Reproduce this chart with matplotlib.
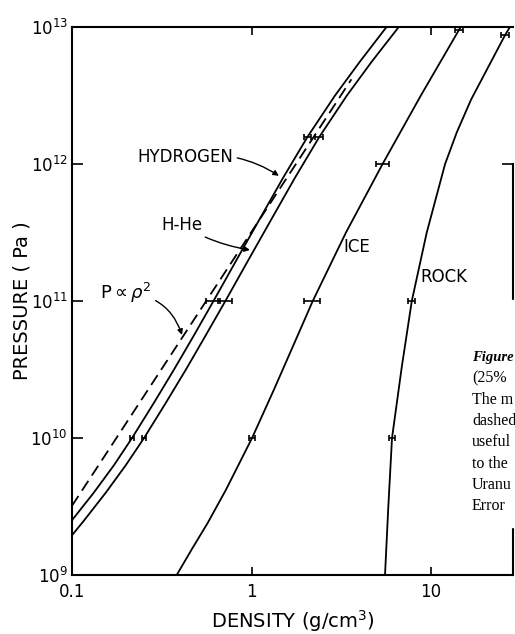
import numpy as np
import matplotlib.pyplot as plt
from matplotlib.patches import Rectangle
from matplotlib.ticker import NullLocator

plt.rcParams['font.family'] = ['DejaVu Sans']
plt.rcParams['mathtext.fontset'] = 'dejavusans'

# curves: density (g/cm3) vs pressure (Pa)
rho_h = [0.100, 0.132, 0.171, 0.216, 0.284, 0.370, 0.478, 0.614, 0.826,
         1.112, 1.500, 2.051, 2.917, 4.027, 5.649]
p_h = [2.51e9, 3.98e9, 6.31e9, 1.0e10, 1.78e10, 3.16e10, 5.62e10, 1.0e11,
       2.0e11, 3.98e11, 7.94e11, 1.58e12, 3.16e12, 5.62e12, 1.0e13]

rho_hhe = [0.100, 0.117, 0.154, 0.199, 0.252, 0.331, 0.431, 0.556, 0.715,
           0.962, 1.294, 1.746, 2.388, 3.396, 4.688, 6.607]
p_hhe = [1.95e9, 2.51e9, 3.98e9, 6.31e9, 1.0e10, 1.78e10, 3.16e10, 5.62e10,
         1.0e11, 2.0e11, 3.98e11, 7.94e11, 1.58e12, 3.16e12, 5.62e12, 1.0e13]

rho_dash = [0.1, 3.6]
p_dash = [3.2e9, 4.15e12]

rho_ice = [0.383, 0.470, 0.568, 0.719, 1.007, 1.330, 1.762, 2.193, 3.357,
           5.370, 8.77, 14.62]
p_ice = [1.0e9, 1.58e9, 2.38e9, 4.17e9, 1.0e10, 2.24e10, 5.19e10, 1.0e11,
         3.16e11, 1.0e12, 3.16e12, 1.0e13]

rho_rock = [5.54, 5.78, 6.06, 6.87, 7.81, 9.46, 11.97, 13.9, 16.7, 20.65,
            25.8, 27.5]
p_rock = [1.0e9, 3.16e9, 1.0e10, 3.31e10, 1.0e11, 3.16e11, 1.0e12, 1.7e12,
          2.95e12, 5.0e12, 8.7e12, 1.0e13]

# error bar points and relative half widths
eb_rho = [0.216, 0.614, 2.05, 0.252, 0.715, 2.39, 1.007, 2.19, 5.37, 14.4,
          6.06, 7.81, 25.8]
eb_p = [1e10, 1e11, 1.58e12, 1e10, 1e11, 1.58e12, 1e10, 1e11, 1e12, 9.5e12,
        1e10, 1e11, 8.7e12]
eb_rel = [0.03, 0.09, 0.05, 0.03, 0.09, 0.05, 0.04, 0.10, 0.08, 0.05,
          0.04, 0.045, 0.05]

x_ticks = [0.1, 1, 10]
x_labels = ['0.1', '1', '10']
y_ticks = [1e9, 1e10, 1e11, 1e12, 1e13]
y_labels = [r'$10^{9}$', r'$10^{10}$', r'$10^{11}$', r'$10^{12}$', r'$10^{13}$']

caption = ['Figure', '(25%', 'The m', 'dashed', 'useful', 'to the',
           'Uranu', 'Error']

fig = plt.figure(figsize=(5.15, 6.34), dpi=100)
ax = fig.add_axes([72 / 515, 59 / 634, 441 / 515, 548 / 634])

lw = 1.3
ax.plot(rho_h, p_h, color='k', lw=lw)
ax.plot(rho_hhe, p_hhe, color='k', lw=lw)
ax.plot(rho_dash, p_dash, color='k', lw=lw, linestyle=(0, (6.5, 3.5)))
ax.plot(rho_ice, p_ice, color='k', lw=lw)
ax.plot(rho_rock, p_rock, color='k', lw=lw)

xerr = np.array(eb_rho) * np.array(eb_rel)
ax.errorbar(eb_rho, eb_p, xerr=xerr, fmt='none', ecolor='k',
            elinewidth=1.2, capsize=2.5, capthick=1.2)

ax.set_xscale('log')
ax.set_yscale('log')
ax.set_xlim(0.1, 28.6)
ax.set_ylim(1e9, 1e13)

ax.set_xticks(x_ticks)
ax.set_xticklabels(x_labels)
ax.set_yticks(y_ticks)
ax.set_yticklabels(y_labels)
ax.xaxis.set_minor_locator(NullLocator())
ax.yaxis.set_minor_locator(NullLocator())
ax.tick_params(which='major', direction='in', top=True, right=True,
               width=1.2, labelsize=12)
ax.tick_params(axis='x', length=6, pad=6)
ax.tick_params(axis='y', length=8, pad=3)

for s in ax.spines.values():
    s.set_linewidth(1.5)
ax.spines['right'].set_bounds(1e9, 1e12)

ax.set_xlabel(r'DENSITY (g/cm$^3$)', fontsize=14, labelpad=5)
ax.set_ylabel('PRESSURE ( Pa )', fontsize=14, labelpad=-1)

arrow = dict(arrowstyle='-|>', color='k', lw=1.0, mutation_scale=8,
             shrinkA=1, shrinkB=0)
ax.annotate('HYDROGEN', xy=(1.42, 8.2e11), xytext=(0.79, 1.12e12),
            ha='right', va='center', fontsize=12,
            arrowprops=dict(arrow, connectionstyle='arc3,rad=-0.2'))
ax.annotate('H-He', xy=(0.98, 2.36e11), xytext=(0.53, 3.6e11),
            ha='right', va='center', fontsize=12,
            arrowprops=dict(arrow, connectionstyle='arc3,rad=0.1'))
ax.annotate(r'$\mathrm{P}\propto\rho^{2}$', xy=(0.41, 5.65e10),
            xytext=(0.143, 1.14e11), ha='left', va='center', fontsize=13,
            arrowprops=dict(arrow, connectionstyle='arc3,rad=-0.35'))
ax.text(3.24, 2.48e11, 'ICE', ha='left', va='center', fontsize=12)
ax.text(8.69, 1.5e11, 'ROCK', ha='left', va='center', fontsize=12)

# white patch of the page where the caption sits over the frame
fig.add_artist(Rectangle((465 / 515, 107 / 634), 50 / 515, 227 / 634,
                         transform=fig.transFigure, color='white', zorder=3))
for i, line in enumerate(caption):
    yy = 1 - (357 + 21.3 * i) / 634
    style = 'italic' if i == 0 else 'normal'
    weight = 'bold' if i == 0 else 'normal'
    size = 10.5 if i == 0 else 11.5
    fig.text(472 / 515, yy, line, ha='left', va='center', fontsize=size,
             family=['Liberation Serif', 'DejaVu Serif'], style=style,
             weight=weight, zorder=4)

fig.savefig('out.png', dpi=100)
